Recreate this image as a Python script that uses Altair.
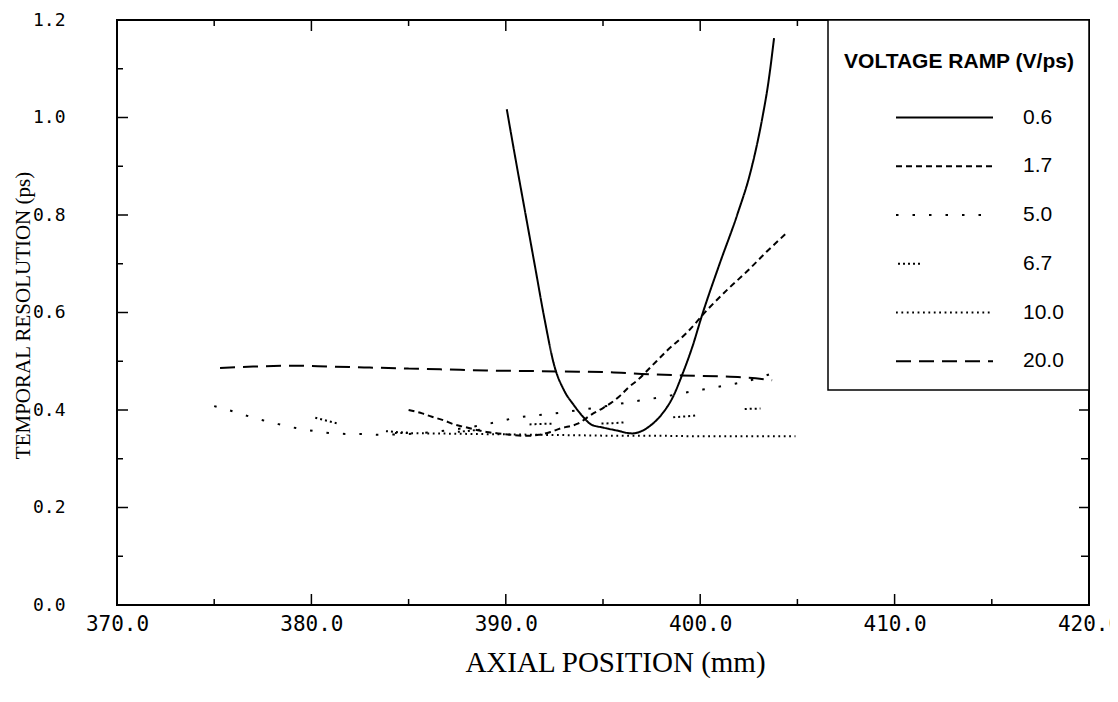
import altair as alt
import pandas as pd

# ---------------- data ----------------
series_names = ["0.6", "1.7", "5.0", "6.7", "10.0", "20.0"]

x_06 = [390.05, 390.5, 391.0, 391.5, 392.0, 392.5, 393.0, 393.5, 394.0, 394.4, 395.0, 395.7,
        396.5, 397.0, 397.5, 398.0, 398.6, 399.1, 399.6, 400.1, 401.0, 401.9, 402.6, 403.2,
        403.5, 403.8]
y_06 = [1.017, 0.915, 0.805, 0.695, 0.585, 0.490, 0.440, 0.410, 0.385, 0.370, 0.364, 0.358,
        0.352, 0.357, 0.370, 0.390, 0.427, 0.475, 0.530, 0.595, 0.700, 0.800, 0.890, 1.000,
        1.070, 1.163]

x_17 = [385.0, 385.7, 386.2, 386.8, 387.3, 387.9, 388.5, 389.0, 389.6, 390.3, 391.0, 391.7,
        392.3, 392.8, 393.7, 394.5, 395.0, 395.4, 395.9, 396.3, 396.8, 397.5, 398.3, 399.3,
        400.4, 401.4, 402.4, 403.4, 404.5]
y_17 = [0.400, 0.393, 0.386, 0.379, 0.371, 0.365, 0.359, 0.355, 0.352, 0.349, 0.347, 0.349,
        0.355, 0.362, 0.372, 0.393, 0.404, 0.414, 0.430, 0.446, 0.462, 0.490, 0.522, 0.558,
        0.607, 0.647, 0.684, 0.724, 0.765]

x_50 = [375.0, 375.9, 376.7, 377.5, 378.3, 379.2, 380.1, 380.9, 381.8, 382.6, 383.4, 384.5,
        385.5, 386.5, 387.5, 388.5, 389.5, 390.5, 391.5, 392.5, 393.8, 395.0, 396.2, 397.3,
        398.1, 398.9, 399.7, 400.6, 401.5, 402.3, 403.1, 403.9]
y_50 = [0.408, 0.398, 0.388, 0.379, 0.371, 0.363, 0.357, 0.353, 0.351, 0.351, 0.349, 0.350,
        0.352, 0.356, 0.361, 0.367, 0.375, 0.384, 0.389, 0.393, 0.400, 0.407, 0.415, 0.422,
        0.427, 0.433, 0.439, 0.445, 0.452, 0.458, 0.467, 0.478]

x_67 = [380.2, 381.3, 382.6, 384.0, 385.5, 387.0, 388.5, 390.0, 391.5, 393.0, 394.5, 395.5,
        397.0, 398.6, 399.6, 401.0, 402.0, 403.1]
y_67 = [0.384, 0.373, 0.363, 0.356, 0.353, 0.354, 0.359, 0.366, 0.371, 0.372, 0.372, 0.373,
        0.378, 0.385, 0.388, 0.395, 0.401, 0.403]

x_100 = [384.3, 386.0, 388.0, 390.0, 392.0, 394.0, 396.0, 398.0, 400.0, 402.0, 404.9]
y_100 = [0.353, 0.352, 0.351, 0.350, 0.349, 0.348, 0.347, 0.347, 0.346, 0.346, 0.346]

x_200 = [375.3, 377.0, 379.0, 381.0, 383.0, 385.0, 387.0, 389.0, 391.0, 393.0, 395.0, 397.0,
         399.0, 401.0, 402.5, 403.7]
y_200 = [0.486, 0.489, 0.491, 0.489, 0.487, 0.485, 0.483, 0.481, 0.480, 0.479, 0.478, 0.474,
         0.471, 0.469, 0.466, 0.461]

x_major = [370, 380, 390, 400, 410, 420]
x_minor = [375, 385, 395, 405, 415]
y_major = [0.0, 0.2, 0.4, 0.6, 0.8, 1.0, 1.2]
y_minor = [0.1, 0.3, 0.5, 0.7, 0.9, 1.1]

x_title = "AXIAL POSITION (mm)"
y_title = "TEMPORAL RESOLUTION (ps)"
legend_title = "VOLTAGE RAMP (V/ps)"

# ---------------- build table ----------------
all_series = [
    ("0.6", x_06, y_06), ("1.7", x_17, y_17), ("5.0", x_50, y_50),
    ("6.7", x_67, y_67), ("10.0", x_100, y_100), ("20.0", x_200, y_200),
]
rows = []
for name, xs, ys in all_series:
    for i, (xv, yv) in enumerate(zip(xs, ys)):
        rows.append({"series": name, "x": xv, "y": yv, "order": i})
df = pd.DataFrame(rows)

# styles
dash_range = [[1, 0], [6, 4], [2.5, 14], [2, 3, 2, 3, 2, 3, 2, 3, 2, 50], [1.8, 3.6], [15, 8]]
width_range = [2, 2, 2.2, 2, 1.8, 2.6]
W, H = 972, 585

xscale = alt.Scale(domain=[370, 420], nice=False, zero=False)
yscale = alt.Scale(domain=[0, 1.2], nice=False, zero=False)
dash_scale = alt.Scale(domain=series_names, range=dash_range)
width_scale = alt.Scale(domain=series_names, range=width_range)

x_axis = alt.Axis(values=x_major, format=".1f", title=x_title,
                  titleFont="Liberation Serif", titleFontSize=29, titleFontWeight="normal",
                  titleX=498, titleY=57, titleBaseline="middle", titleAlign="center",
                  labelFont="DejaVu Sans Mono", labelFontSize=21, labelPadding=8,
                  labelFlush=False, labelOverlap=False, ticks=False, tickSize=0,
                  domain=False, grid=False, labelColor="black", titleColor="black")
y_axis = alt.Axis(values=y_major, format=".1f", title=y_title,
                  titleFont="Liberation Serif", titleFontSize=21, titleFontWeight="normal",
                  titleX=-94, titleY=295, titleBaseline="middle", titleAlign="center",
                  titleAngle=270,
                  labelFont="DejaVu Sans Mono", labelFontSize=18, labelPadding=52,
                  labelFlush=False, labelOverlap=False, ticks=False, tickSize=0,
                  domain=False, grid=False, labelColor="black", titleColor="black")

lines = alt.Chart(df).mark_line(color="black", interpolate="monotone").encode(
    x=alt.X("x:Q", scale=xscale, axis=x_axis),
    y=alt.Y("y:Q", scale=yscale, axis=y_axis),
    strokeDash=alt.StrokeDash("series:N", scale=dash_scale, legend=None),
    strokeWidth=alt.StrokeWidth("series:N", scale=width_scale, legend=None),
    detail="series:N",
    order="order:Q",
)

def xticks(vals, y1, y2):
    return alt.Chart(pd.DataFrame({"x": vals})).mark_rule(color="black", strokeWidth=1.5).encode(
        x=alt.X("x:Q", scale=xscale), y=alt.value(y1), y2=alt.value(y2))

def yticks(vals, x1, x2):
    return alt.Chart(pd.DataFrame({"y": vals})).mark_rule(color="black", strokeWidth=1.5).encode(
        y=alt.Y("y:Q", scale=yscale), x=alt.value(x1), x2=alt.value(x2))

ticks = [
    xticks(x_major, H, H - 11), xticks(x_minor, H, H - 6),
    xticks(x_major, 0, 11), xticks(x_minor, 0, 6),
    yticks(y_major, 0, 11), yticks(y_minor, 0, 6),
    yticks(y_major, W, W - 10), yticks(y_minor, W, W - 8),
]

leg_df = pd.DataFrame({"series": series_names, "row": list(range(len(series_names)))})

legend_box = alt.Chart(pd.DataFrame({"a": [0]})).mark_rect(
    fill="white", stroke="black", strokeWidth=1.5).encode(
    x=alt.value(711), x2=alt.value(W), y=alt.value(0), y2=alt.value(370))

leg_base = alt.Chart(leg_df).transform_calculate(ly="1.0 - 0.1*datum.row")

leg_lines = leg_base.transform_filter("datum.series != '6.7'").mark_rule(
    color="black").encode(
    y=alt.Y("ly:Q", scale=yscale), x=alt.value(779), x2=alt.value(876),
    strokeDash=alt.StrokeDash("series:N", scale=dash_scale, legend=None),
    strokeWidth=alt.StrokeWidth("series:N", scale=width_scale, legend=None))
leg_line67 = leg_base.transform_filter("datum.series == '6.7'").mark_rule(
    color="black", strokeWidth=2).encode(
    y=alt.Y("ly:Q", scale=yscale), x=alt.value(781), x2=alt.value(818),
    strokeDash=alt.StrokeDash("series:N", scale=dash_scale, legend=None))
leg_text = leg_base.mark_text(align="left", baseline="middle", font="Liberation Sans",
                              fontSize=21, color="black").encode(
    y=alt.Y("ly:Q", scale=yscale), x=alt.value(906), text="series:N")
leg_title = alt.Chart(pd.DataFrame({"t": [legend_title]})).mark_text(
    align="center", baseline="middle", font="Liberation Sans", fontSize=21,
    fontWeight="bold", color="black").encode(
    x=alt.value(842), y=alt.value(42), text="t:N")

chart = alt.layer(lines, *ticks, legend_box, leg_lines, leg_line67, leg_text, leg_title).properties(
    width=W, height=H,
    autosize=alt.AutoSizeParams(type="none"),
    padding={"left": 109, "top": 12, "right": 21, "bottom": 81},
    background="white",
).configure_view(stroke="black", strokeWidth=2)

chart.save("out.html", embed_options={"renderer": "svg", "actions": False})
